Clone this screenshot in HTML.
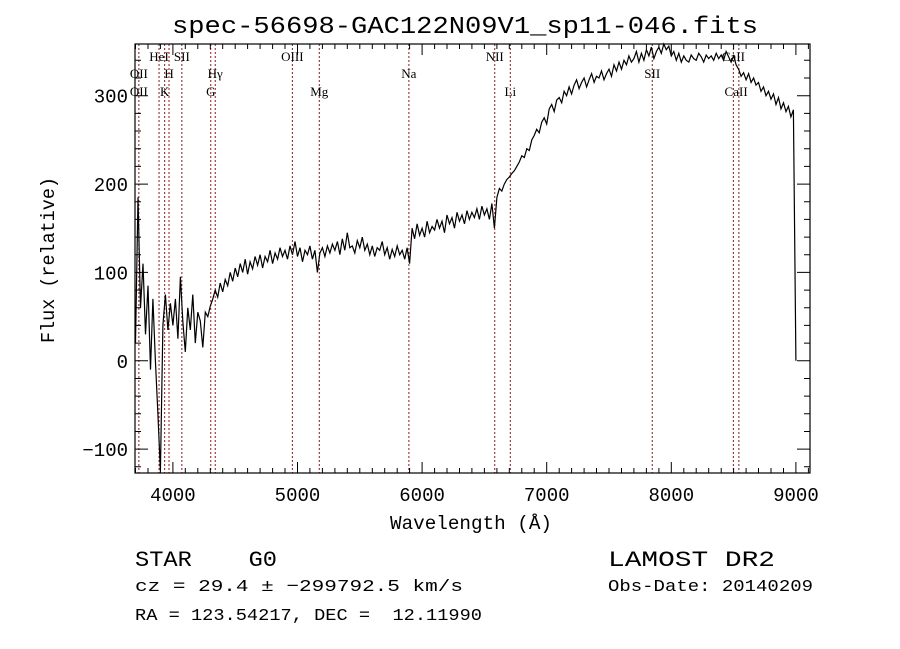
<!DOCTYPE html>
<html><head><meta charset="utf-8"><style>
html,body{margin:0;padding:0;background:#fff;}
svg{display:block;}
text{font-family:"Liberation Mono",monospace;fill:#000;white-space:pre;}
.ser{font-family:"Liberation Serif",serif;font-size:13px;}
</style></head><body>
<svg id="chart" width="900" height="649" viewBox="0 0 900 649" xmlns="http://www.w3.org/2000/svg" xml:space="preserve">
<rect x="0" y="0" width="900" height="649" fill="#fff"/>
<text x="465" y="33" text-anchor="middle" font-size="24" textLength="586" lengthAdjust="spacingAndGlyphs">spec-56698-GAC122N09V1_sp11-046.fits</text>
<g id="lines"></g>
<g id="labels"></g>
<path id="spec" fill="none" stroke="#000" stroke-width="1.2"/>
<g id="axes"></g>
<text x="0" y="0" transform="translate(54,260) rotate(-90)" text-anchor="middle" font-size="19" textLength="166" lengthAdjust="spacingAndGlyphs">Flux (relative)</text>
<text x="471" y="529" text-anchor="middle" font-size="19" textLength="162" lengthAdjust="spacingAndGlyphs">Wavelength (Å)</text>
<text x="135" y="566" font-size="22" textLength="142" lengthAdjust="spacingAndGlyphs">STAR    G0</text>
<text x="135" y="591" font-size="17" textLength="328" lengthAdjust="spacingAndGlyphs">cz = 29.4 ± −299792.5 km/s</text>
<text x="135" y="620" font-size="17" textLength="347" lengthAdjust="spacingAndGlyphs">RA = 123.54217, DEC =  12.11990</text>
<text x="608" y="566" font-size="22" textLength="167" lengthAdjust="spacingAndGlyphs">LAMOST DR2</text>
<text x="608" y="591" font-size="17" textLength="205" lengthAdjust="spacingAndGlyphs">Obs-Date: 20140209</text>
</svg>
<script>
const waveStart = 3700;
const waveStep = 20;
const flux = [
20,185,60,110,30,85,-10,70,0,-60,
-125,40,75,35,65,40,70,25,95,45,
10,60,35,75,20,55,45,15,55,50,
62,70,80,72,88,78,92,85,100,90,
105,95,110,100,115,98,112,104,118,108,
120,105,118,112,125,110,122,115,128,118,
125,115,130,120,135,118,128,112,125,120,
130,115,125,100,122,128,118,130,122,132,
125,135,120,138,125,145,128,130,122,136,
128,140,125,132,120,130,118,128,125,135,
120,128,115,126,118,130,120,125,115,128,
110,150,138,155,142,150,140,158,145,152,
148,160,150,158,145,165,155,162,150,168,
158,165,155,170,160,168,162,172,160,175,
165,172,160,178,150,185,195,192,200,205,
208,212,215,220,225,232,230,240,238,250,
255,262,258,270,275,268,285,290,282,295,
298,292,305,300,310,302,312,318,308,315,
320,310,318,325,315,322,320,328,318,325,
330,322,335,328,338,330,340,335,345,338,
342,350,338,348,340,352,345,355,342,350,
355,348,360,352,356,345,350,340,348,338,
345,340,338,346,342,340,348,344,338,346,
342,345,340,348,342,346,340,350,344,338,
345,335,330,322,326,318,325,315,320,312,
315,305,310,300,305,296,302,290,298,285,
292,282,288,276,284,
0
];
const lineWaves = [3727,3889,3934,3969,4072,4304,4340,4959,5175,5894,6583,6708,7847,8498,8542];
const labelTexts = ["HeI","SII","OIII","NII","CaII","OII","H","Hγ","Na","SII","OII","K","G","Mg","Li","CaII"];
const labelWaves = [3889,4072,4959,6583,8498,3727,3969,4340,5894,7847,3727,3934,4304,5175,6708,8520];
const labelRows = [0,0,0,0,0,1,1,1,1,1,2,2,2,2,2,2];
const xTicks = [4000,5000,6000,7000,8000,9000];
const yTicks = [-100,0,100,200,300];

const X0=135,X1=810,Y0=44,Y1=473;
const wMin=3696,wMax=9113,fMin=-127,fMax=358.5;
const sx=w=>X0+(w-wMin)/(wMax-wMin)*(X1-X0);
const sy=f=>Y1-(f-fMin)/(fMax-fMin)*(Y1-Y0);
const NS="http://www.w3.org/2000/svg";
function mk(tag,parent){const e=document.createElementNS(NS,tag);parent.appendChild(e);return e;}

const gl=document.getElementById('lines');
lineWaves.forEach(w=>{
  const l=mk('line',gl);
  
  
  l.setAttribute('x1',sx(w));l.setAttribute('x2',sx(w));
  l.setAttribute('y1',Y0);l.setAttribute('y2',Y1);
  l.setAttribute('stroke','#8b1a1a');l.setAttribute('stroke-width','1');
  l.setAttribute('stroke-dasharray','2,2');
});
const glab=document.getElementById('labels');
const rowY=[61,78,96];
labelTexts.forEach((t,i)=>{
  const e=mk('text',glab);
  
  
  e.setAttribute('class','ser');
  e.setAttribute('x',sx(labelWaves[i]));
  e.setAttribute('y',rowY[labelRows[i]]);
  e.setAttribute('text-anchor','middle');
  e.textContent=t;
});

let d='';
flux.forEach((f,i)=>{
  const w=waveStart+i*waveStep;
  const fy=Math.max(fMin,Math.min(fMax,f));
  d+=(i?'L':'M')+sx(w).toFixed(1)+' '+sy(fy).toFixed(1);
});
document.getElementById('spec').setAttribute('d',d);

const ga=document.getElementById('axes');
const fr=mk('rect',ga);


fr.setAttribute('x',X0);fr.setAttribute('y',Y0);fr.setAttribute('width',X1-X0);fr.setAttribute('height',Y1-Y0);
fr.setAttribute('fill','none');fr.setAttribute('stroke','#000');fr.setAttribute('stroke-width','1.2');
let td='';
for(let w=3700;w<=9100;w+=100){
  const L=(w%1000===0)?11:5;const x=sx(w).toFixed(1);
  td+=`M${x} ${Y1}V${Y1-L}M${x} ${Y0}V${Y0+L}`;
}
for(let f=-120;f<=350;f+=20){
  const L=(f%100===0)?13:6;const y=sy(f).toFixed(1);
  td+=`M${X0} ${y}H${X0+L}M${X1} ${y}H${X1-L}`;
}
const tp=mk('path',ga);


tp.setAttribute('d',td);tp.setAttribute('stroke','#000');tp.setAttribute('fill','none');
xTicks.forEach(w=>{
  const e=mk('text',ga);
  
  
  e.setAttribute('x',sx(w));e.setAttribute('y',501);
  e.setAttribute('text-anchor','middle');e.setAttribute('font-size','19');
  e.textContent=String(w);
});
yTicks.forEach(f=>{
  const e=mk('text',ga);
  
  
  e.setAttribute('x',128);e.setAttribute('y',sy(f)+7);
  e.setAttribute('text-anchor','end');e.setAttribute('font-size','19');
  e.textContent=(f<0?'−':'')+Math.abs(f);
});
</script>
</body></html>
